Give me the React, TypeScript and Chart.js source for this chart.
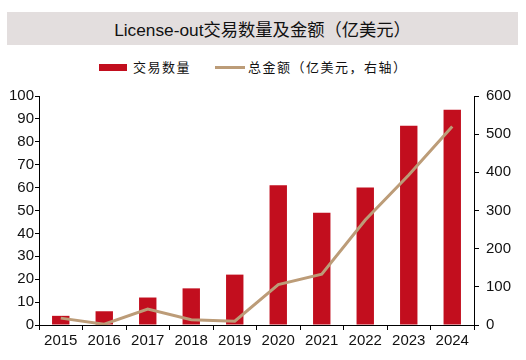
import React, { useEffect, useRef } from "react";
import { Chart, registerables } from "chart.js";

Chart.register(...registerables);

const years = ["2015", "2016", "2017", "2018", "2019", "2020", "2021", "2022", "2023", "2024"];
const dealCounts = [4, 6, 12, 16, 22, 61, 49, 60, 87, 94];
const totalAmount = [18, 2, 42, 14, 10, 106, 133, 275, 393, 520];

const titleText = "License-out交易数量及金额（亿美元）";
const barLabel = "交易数量";
const lineLabel = "总金额（亿美元，右轴）";

const RED = "#C20E1E";
const TAN = "#BC9C78";

export default function App() {
  const ref = useRef<HTMLCanvasElement | null>(null);

  useEffect(() => {
    if (!ref.current) return;
    const tickFont = { family: "'Liberation Sans', Arial, sans-serif", size: 15 };
    const chart = new Chart(ref.current, {
      type: "bar",
      data: {
        labels: years,
        datasets: [
          {
            type: "line",
            label: lineLabel,
            data: totalAmount,
            yAxisID: "y1",
            borderColor: TAN,
            backgroundColor: TAN,
            borderWidth: 3,
            pointRadius: 0,
            tension: 0,
            order: 1,
          },
          {
            type: "bar",
            label: barLabel,
            data: dealCounts,
            yAxisID: "y",
            backgroundColor: RED,
            barPercentage: 0.8,
            categoryPercentage: 0.5,
            order: 2,
          },
        ],
      },
      options: {
        responsive: false,
        animation: false,
        devicePixelRatio: 1,
        layout: { padding: { top: 11, left: 0, right: 0, bottom: 0 } },
        plugins: { legend: { display: false }, title: { display: false }, tooltip: { enabled: false } },
        scales: {
          x: {
            offset: true,
            grid: { display: true, offset: true, drawOnChartArea: false, drawTicks: true, tickLength: 5, color: "#000" },
            border: { color: "#000", width: 1 },
            ticks: { color: "#111", font: tickFont, padding: 2, maxRotation: 0 },
            afterFit: (s: any) => { s.height = 35; },
          },
          y: {
            position: "left",
            min: 0,
            max: 100,
            grid: { display: true, drawOnChartArea: false, drawTicks: true, tickLength: 4, color: "#000" },
            border: { color: "#000", width: 1 },
            ticks: { stepSize: 10, color: "#111", font: tickFont, padding: 1 },
            afterFit: (s: any) => { s.width = 39; },
          },
          y1: {
            position: "right",
            min: 0,
            max: 600,
            grid: { display: true, drawOnChartArea: false, drawTicks: true, tickLength: 5, color: "#000" },
            border: { color: "#000", width: 1 },
            ticks: { stepSize: 100, color: "#111", font: tickFont, padding: 7 },
            afterFit: (s: any) => { s.width = 52; },
          },
        },
      },
    });
    return () => chart.destroy();
  }, []);

  const legendText: React.CSSProperties = {
    fontFamily: "'Noto Sans CJK SC', sans-serif",
    fontSize: 13,
    letterSpacing: 1.5,
    color: "#111",
    position: "absolute",
    top: 58,
    lineHeight: "18px",
    whiteSpace: "nowrap",
  };

  return (
    <div style={{ position: "fixed", left: 0, top: 0, width: 526, height: 360, background: "#fff", overflow: "hidden" }}>
      <div
        style={{
          position: "absolute",
          left: 7,
          top: 12,
          width: 511,
          height: 33,
          background: "#E3DEDE",
          display: "flex",
          alignItems: "center",
          justifyContent: "center",
          fontFamily: "'Liberation Sans', 'Noto Sans CJK SC', sans-serif",
          fontSize: 17.3,
          color: "#111",
        }}
      >
        {titleText}
      </div>
      <div style={{ position: "absolute", left: 99, top: 64, width: 28, height: 7, background: RED }} />
      <div style={{ ...legendText, left: 133 }}>{barLabel}</div>
      <div style={{ position: "absolute", left: 215, top: 66, width: 30, height: 3, background: TAN }} />
      <div style={{ ...legendText, left: 248 }}>{lineLabel}</div>
      <canvas ref={ref} width={526} height={280} style={{ position: "absolute", left: 0, top: 80, width: 526, height: 280 }} />
    </div>
  );
}
